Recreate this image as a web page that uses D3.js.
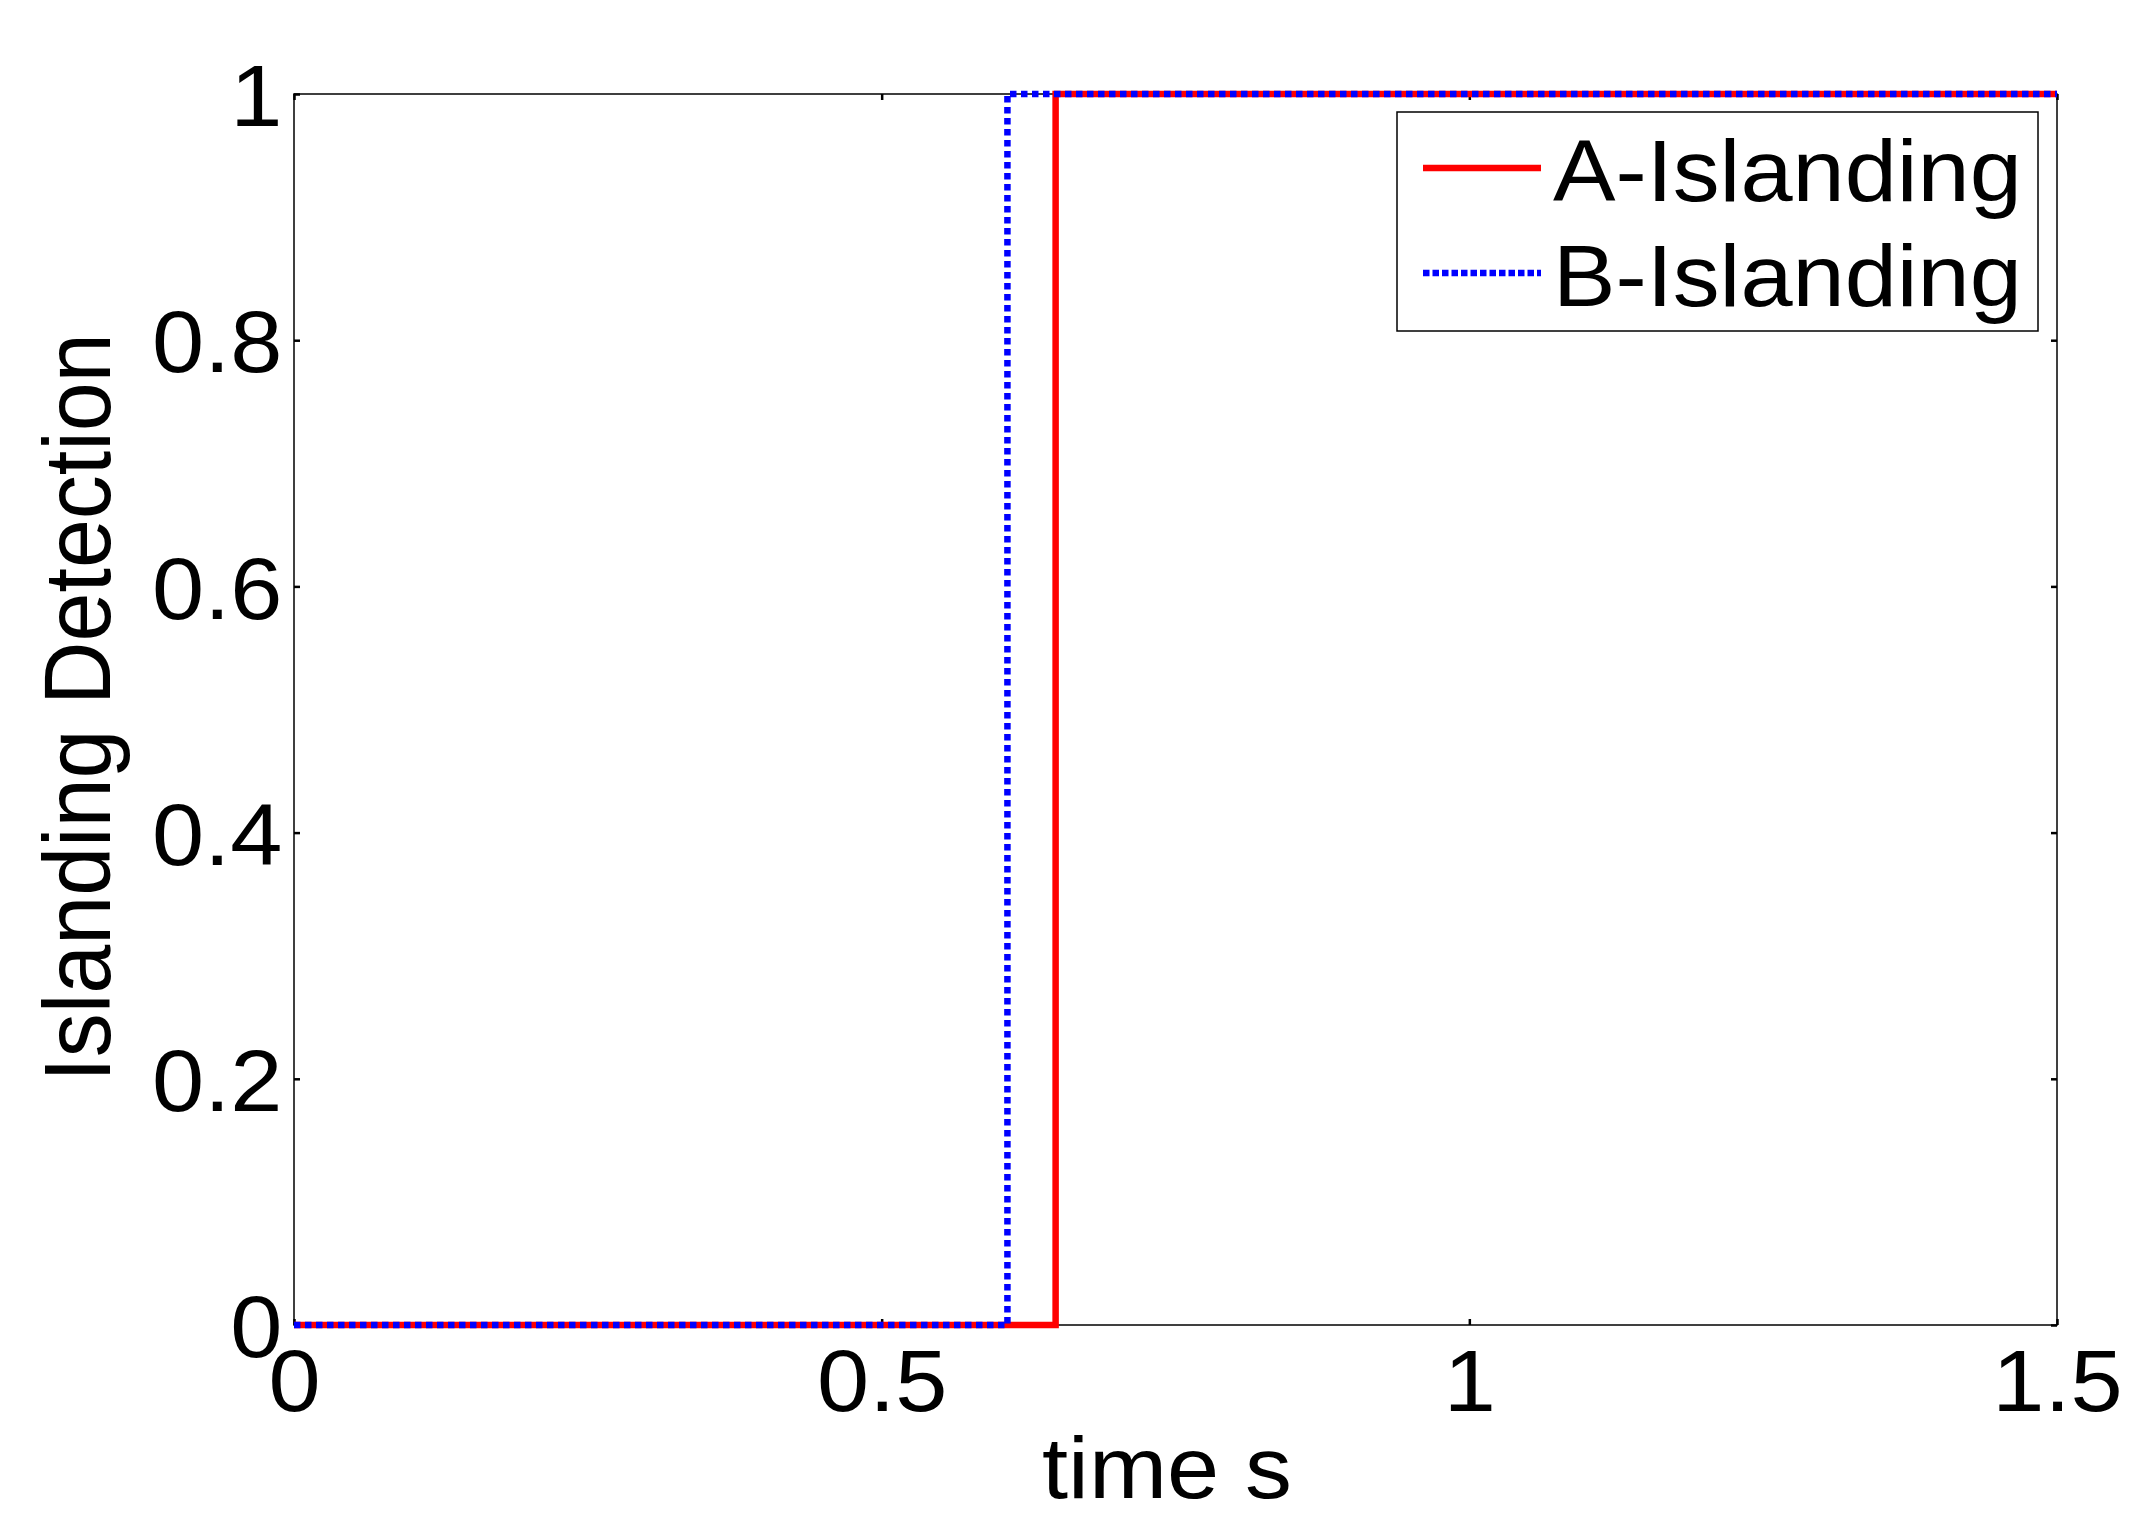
<!DOCTYPE html>
<html>
<head>
<meta charset="utf-8">
<script src="https://cdn.jsdelivr.net/npm/d3@7"></script>
<style>
  body { margin: 0; background: #fff; }
  text { font-family: "Liberation Sans", Arial, sans-serif; }
</style>
</head>
<body>
<div id="g1"></div>
<script>
// data
var timeA = [0, 0, 0.648, 0.648, 1.5];
var detectA = [0, 0, 0, 1, 1];
var timeB = [0, 0, 0.607, 0.607, 1.5];
var detectB = [0, 0, 0, 1, 1];
var seriesNames = ["A-Islanding", "B-Islanding"];
var xTicks = [0, 0.5, 1, 1.5];
var yTicks = [0, 0.2, 0.4, 0.6, 0.8, 1];

var w = 2142, h = 1516;
var plotL = 294, plotR = 2057, plotT = 94, plotB = 1325;
var fs = 88, stretch = 1.065;   // picture is a bit wide, so text is too

var svg = d3.select("#g1").append("svg").attr("width", w).attr("height", h);

var x = d3.scaleLinear().domain([0, 1.5]).range([plotL, plotR]);
var y = d3.scaleLinear().domain([0, 1]).range([plotB, plotT]);

// box
svg.append("rect").attr("x", plotL).attr("y", plotT)
   .attr("width", plotR - plotL).attr("height", plotB - plotT)
   .style("fill", "none").style("stroke", "black").style("stroke-width", 1.5);

function styleAxis(g) {
  g.select(".domain").remove();
  g.selectAll(".tick line").style("stroke", "black").style("stroke-width", 2.5);
  g.selectAll("text").style("font-size", fs + "px").style("fill", "black")
   .attr("transform", "scale(" + stretch + ",1)");
}

var xAxis = d3.axisBottom(x).tickValues(xTicks).tickFormat(function(d){ return String(d); })
   .tickSizeInner(-6).tickSizeOuter(0).tickPadding(24);
svg.append("g").attr("transform", "translate(0," + plotB + ")").call(xAxis).call(styleAxis);

var yAxis = d3.axisLeft(y).tickValues(yTicks).tickFormat(function(d){ return String(d); })
   .tickSizeInner(-6).tickSizeOuter(0).tickPadding(11);
svg.append("g").attr("transform", "translate(" + plotL + ",0)").call(yAxis).call(styleAxis)
   .selectAll("text").attr("dy", "0.36em");

svg.append("g").attr("transform", "translate(0," + plotT + ")")
   .call(d3.axisTop(x).tickValues(xTicks).tickFormat("").tickSizeInner(-6).tickSizeOuter(0))
   .call(styleAxis);
svg.append("g").attr("transform", "translate(" + plotR + ",0)")
   .call(d3.axisRight(y).tickValues(yTicks).tickFormat("").tickSizeInner(-6).tickSizeOuter(0))
   .call(styleAxis);

// axis titles
svg.append("text").attr("transform", "translate(1167,1498) scale(" + stretch + ",1)")
   .attr("text-anchor", "middle").style("font-size", fs + "px").text("time s");
svg.append("text").attr("transform", "translate(110," + ((plotT + plotB) / 2 - 2) + ") scale(" + stretch + ",1) rotate(-90)")
   .attr("text-anchor", "middle").style("font-size", fs + "px").text("Islanding Detection");

// lines
var line = d3.line().x(function(d){ return x(d[0]); }).y(function(d){ return y(d[1]); });
var ptsA = timeA.map(function(t, i){ return [t, detectA[i]]; });
var ptsB = timeB.map(function(t, i){ return [t, detectB[i]]; });

svg.append("path").datum(ptsA).attr("d", line)
   .style("fill", "none").style("stroke", "#ff0000").style("stroke-width", 6.5);
svg.append("path").datum(ptsB).attr("d", line)
   .style("fill", "none").style("stroke", "#0000ff").style("stroke-width", 6.5)
   .style("stroke-dasharray", "6.5,4.5");

// legend
var lg = svg.append("g");
lg.append("rect").attr("x", 1397).attr("y", 112).attr("width", 2038 - 1397).attr("height", 331 - 112)
  .style("fill", "white").style("stroke", "black").style("stroke-width", 1.5);
var legY = [168, 273], legBase = [201, 306];
var legStyles = [{c: "#ff0000", d: null}, {c: "#0000ff", d: "6.5,3"}];
seriesNames.forEach(function(name, i) {
  lg.append("line").attr("x1", 1423).attr("x2", 1541).attr("y1", legY[i]).attr("y2", legY[i])
    .style("stroke", legStyles[i].c).style("stroke-width", 6.5)
    .style("stroke-dasharray", legStyles[i].d);
  lg.append("text").attr("transform", "translate(1553," + legBase[i] + ") scale(" + stretch + ",1)")
    .style("font-size", fs + "px").text(name);
});
</script>
</body>
</html>
